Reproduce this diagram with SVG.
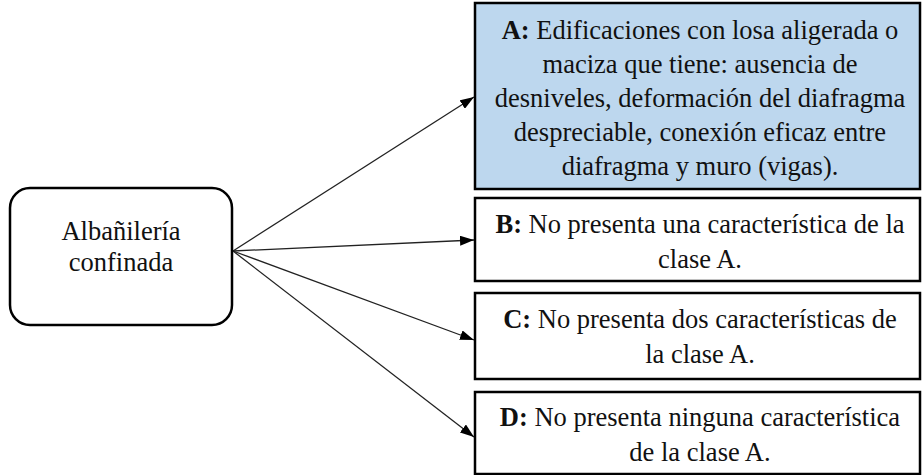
<svg xmlns="http://www.w3.org/2000/svg" width="922" height="475" viewBox="0 0 922 475">
<style>
.box{fill:#fff;stroke:#000;stroke-width:2.5}
.boxA{fill:#BDD7EE;stroke:#000;stroke-width:2.5}
.t{font-family:'Liberation Serif','DejaVu Serif',serif;font-size:26.5px;fill:#111;text-anchor:middle}
.b{font-weight:bold}
.c{stroke:#222;stroke-width:1.3;fill:none;marker-end:url(#ah)}
</style>
<defs>
<marker id="ah" viewBox="0 0 14 10" refX="14" refY="5" markerWidth="14" markerHeight="10" markerUnits="userSpaceOnUse" orient="auto">
<path d="M0,0 L14,5 L0,10 Z" fill="#000"/>
</marker>
</defs>
<g id="connectors">
<line class="c" x1="233" y1="251" x2="474" y2="97"/>
<line class="c" x1="233" y1="251" x2="474" y2="240"/>
<line class="c" x1="233" y1="251" x2="474" y2="340"/>
<line class="c" x1="233" y1="251" x2="474" y2="437"/>
</g>
<g id="node-albanileria">
<rect class="box" x="10" y="188" width="222" height="137" rx="20" ry="20"/>
<text class="t" x="121" y="240">Albañilería</text>
<text class="t" x="121" y="271">confinada</text>
</g>
<g id="node-A">
<rect class="boxA" x="475" y="3" width="445" height="186"/>
<text class="t" x="700" y="39"><tspan class="b">A:</tspan> Edificaciones con losa aligerada o</text>
<text class="t" x="700" y="73">maciza que tiene: ausencia de</text>
<text class="t" x="700" y="107">desniveles, deformación del diafragma</text>
<text class="t" x="700" y="141">despreciable, conexión eficaz entre</text>
<text class="t" x="700" y="175">diafragma y muro (vigas).</text>
</g>
<g id="node-B">
<rect class="box" x="475" y="198" width="445" height="83"/>
<text class="t" x="700" y="233"><tspan class="b">B:</tspan> No presenta una característica de la</text>
<text class="t" x="700" y="268">clase A.</text>
</g>
<g id="node-C">
<rect class="box" x="475" y="293" width="445" height="86"/>
<text class="t" x="700" y="328"><tspan class="b">C:</tspan> No presenta dos características de</text>
<text class="t" x="700" y="363">la clase A.</text>
</g>
<g id="node-D">
<rect class="box" x="475" y="392" width="445" height="82"/>
<text class="t" x="700" y="426"><tspan class="b">D:</tspan> No presenta ninguna característica</text>
<text class="t" x="700" y="461">de la clase A.</text>
</g>
</svg>
